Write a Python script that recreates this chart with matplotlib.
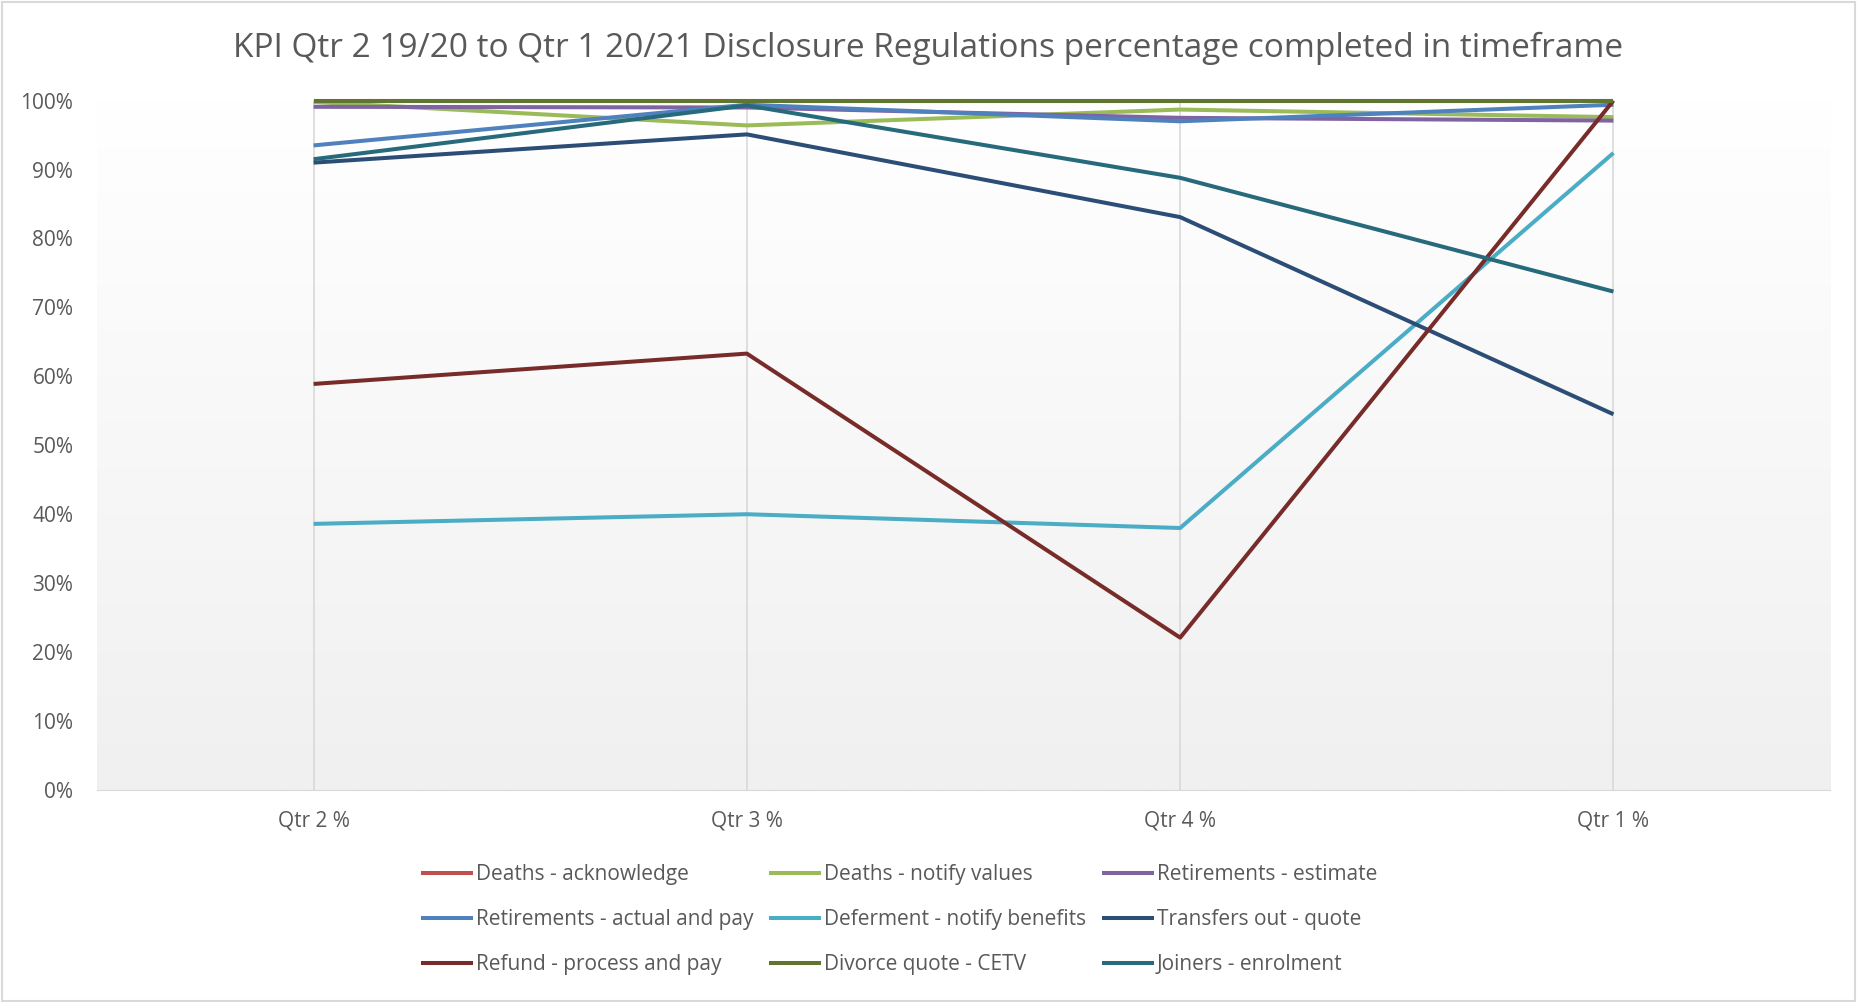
#Plot KPI disclosure regulations lines, Excel style

import numpy as np
import matplotlib.pyplot as plt
from matplotlib.patches import Rectangle

#_________INPUT data_______
quarters = ["Qtr 2 %", "Qtr 3 %", "Qtr 4 %", "Qtr 1 %"]
deaths_ack = [100, 100, 100, 100]
deaths_notify = [99.8, 96.4, 98.7, 97.6]
ret_estimate = [99.1, 99.0, 97.5, 97.1]
ret_actual = [93.5, 99.4, 97.0, 99.4]
deferment = [38.6, 40.0, 38.0, 92.4]
transfers_out = [91.0, 95.1, 83.1, 54.5]
refund = [58.9, 63.3, 22.1, 100]
divorce = [100, 100, 100, 100]
joiners = [91.5, 99.3, 88.8, 72.3]

names = ["Deaths - acknowledge", "Deaths - notify values", "Retirements - estimate",
         "Retirements - actual and pay", "Deferment - notify benefits", "Transfers out - quote",
         "Refund - process and pay", "Divorce quote - CETV", "Joiners - enrolment"]
series = [deaths_ack, deaths_notify, ret_estimate, ret_actual, deferment,
          transfers_out, refund, divorce, joiners]
colors = ["#C0504D", "#9BBB59", "#8064A2", "#4F81BD", "#4BACC6",
          "#2C4D75", "#772C2A", "#5F7530", "#276A7C"]

#_________Figure Style_______________________
plt.rcParams["font.family"] = ["Open Sans", "DejaVu Sans"]
plt.rcParams["font.size"] = 15
txt_col = "#595959"

fig = plt.figure(figsize=(18.57, 10.02), dpi=100)
ax = fig.add_axes([0.0522, 0.2116, 0.9333, 0.688])

x = np.arange(len(quarters))
# gradient plot area
grad = np.linspace(0, 1, 256).reshape(-1, 1)
ax.imshow(grad, extent=[-0.5, 3.5, 0, 100], aspect="auto", origin="upper",
          cmap=plt.matplotlib.colors.LinearSegmentedColormap.from_list("g", ["#ffffff", "#f0f0f0"]),
          zorder=0)
for xi in x:
    ax.axvline(xi, color="#d9d9d9", lw=1.2, zorder=1)

lines = []
for name, vals, c in zip(names, series, colors):
    ln, = ax.plot(x, vals, color=c, lw=2.9, label=name, zorder=3, clip_on=False,
                  solid_capstyle="butt")
    lines.append(ln)

ax.set_xlim(-0.5, 3.5)
ax.set_ylim(0, 100)
ax.set_yticks(np.arange(0, 101, 10))
ax.set_yticklabels([f"{v}%" for v in range(0, 101, 10)])
ax.set_xticks(x)
ax.set_xticklabels(quarters)
ax.tick_params(length=0, colors=txt_col, labelsize=15)
ax.tick_params(axis="y", pad=17)
ax.tick_params(axis="x", pad=15)
for s in ["top", "right", "left"]:
    ax.spines[s].set_visible(False)
ax.spines["bottom"].set_color("#d9d9d9")

fig.suptitle("KPI Qtr 2 19/20 to Qtr 1 20/21 Disclosure Regulations percentage completed in timeframe",
             y=0.968, fontsize=24, color=txt_col)

order = [0, 3, 6, 1, 4, 7, 2, 5, 8]
leg = fig.legend([lines[i] for i in order], [names[i] for i in order], ncol=3,
                 loc="upper left", bbox_to_anchor=(0.222, 0.146), frameon=False,
                 handlelength=2.5, handletextpad=0.15, columnspacing=0.75,
                 labelspacing=1.16, fontsize=15, borderaxespad=0)
for t in leg.get_texts():
    t.set_color(txt_col)

fig.patches.append(Rectangle((0.001, 0.001), 0.998, 0.997, transform=fig.transFigure,
                             fill=False, edgecolor="#d9d9d9", lw=1.5))
fig.savefig("out.png", dpi=100)
